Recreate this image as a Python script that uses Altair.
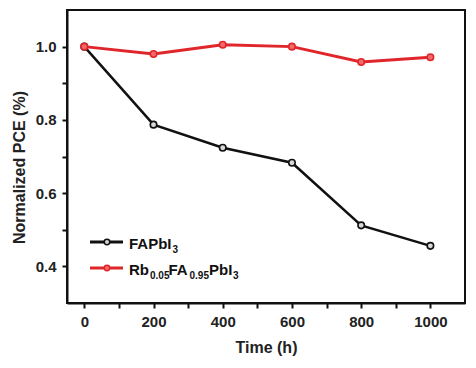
import altair as alt
import pandas as pd

# ---- data ----
time_h = [0, 200, 400, 600, 800, 1000]
fapbi3 = [1.000, 0.787, 0.724, 0.683, 0.512, 0.456]
rb_fapbi3 = [1.000, 0.980, 1.005, 1.000, 0.958, 0.971]
series_names = ["FAPbI3", "Rb0.05FA0.95PbI3"]
line_colors = ["#111111", "#e0262b"]
marker_fill = ["#d8d8d8", "#f06a6a"]

x_ticks = [0, 100, 200, 300, 400, 500, 600, 700, 800, 900, 1000]
y_ticks = [0.4, 0.5, 0.6, 0.7, 0.8, 0.9, 1.0]

df = pd.DataFrame({
    "time": time_h * 2,
    "pce": fapbi3 + rb_fapbi3,
    "series": [series_names[0]] * len(time_h) + [series_names[1]] * len(time_h),
})

FONT = "Liberation Sans"

xscale = alt.Scale(domain=[-50, 1100], nice=False, zero=False)
yscale = alt.Scale(domain=[0.3, 1.1], nice=False, zero=False)

xaxis = alt.Axis(
    title="Time (h)", values=x_ticks, format="d",
    labelExpr="datum.value % 200 == 0 ? datum.label : ''",
    tickSize=5, labelPadding=6, titlePadding=10, grid=False,
)
yaxis = alt.Axis(
    title="Normalized PCE (%)", values=y_ticks, format=".1f",
    labelExpr="round(datum.value * 10) % 2 == 0 ? datum.label : ''",
    tickSize=5, labelPadding=6, titlePadding=8, titleY=157, grid=False,
)

layers = []
for i, name in enumerate(series_names):
    sub = df[df["series"] == name]
    base = alt.Chart(sub).encode(
        x=alt.X("time:Q", scale=xscale, axis=xaxis),
        y=alt.Y("pce:Q", scale=yscale, axis=yaxis),
    )
    layers.append(base.mark_line(color=line_colors[i], strokeWidth=3 if i else 2.5))
    layers.append(base.mark_point(shape="circle", filled=True, size=42,
                                  fill=marker_fill[i], stroke=line_colors[i],
                                  strokeWidth=1.6, opacity=1))

# ---- custom legend (layout positions in px relative to plot origin) ----
one = alt.Data(values=[{}])
leg_y = [232, 258]
for i in range(2):
    layers.append(alt.Chart(one).mark_rule(color=line_colors[i], strokeWidth=3).encode(
        x=alt.value(23), x2=alt.value(56), y=alt.value(leg_y[i])))
    layers.append(alt.Chart(one).mark_point(shape="circle", filled=True, size=30,
                                            fill=marker_fill[i], stroke=line_colors[i],
                                            strokeWidth=1.5, opacity=1).encode(
        x=alt.value(40), y=alt.value(leg_y[i])))

legend_pieces = [
    # text, x, baseline y, size
    ("FAPbI", 62, 239, 15), ("3", 105.5, 243, 10),
    ("Rb", 62, 265, 15), ("0.05", 83, 269, 10), ("FA", 101.5, 265, 15),
    ("0.95", 122.5, 269, 10), ("PbI", 142, 265, 15), ("3", 166, 269, 10),
]
for txt, px, py, fs in legend_pieces:
    layers.append(alt.Chart(one).mark_text(
        text=txt, align="left", baseline="alphabetic", font=FONT,
        fontWeight="bold", fontSize=fs, color="#111111").encode(
        x=alt.value(px), y=alt.value(py)))

chart = alt.layer(*layers).properties(
    width=398, height=293,
    padding={"left": 59, "top": 2, "right": 3, "bottom": 57},
    autosize=alt.AutoSizeParams(type="none"),
    background="white",
).configure_view(
    stroke="#111111", strokeWidth=2,
).configure_axis(
    domainColor="#111111", domainWidth=2, tickColor="#111111", tickWidth=2,
    labelFont=FONT, labelFontWeight="bold", labelFontSize=15, labelColor="#222222",
    titleFont=FONT, titleFontWeight="bold", titleFontSize=16, titleColor="#222222",
)

chart.save("out.html", embed_options={"renderer": "svg", "actions": False})
